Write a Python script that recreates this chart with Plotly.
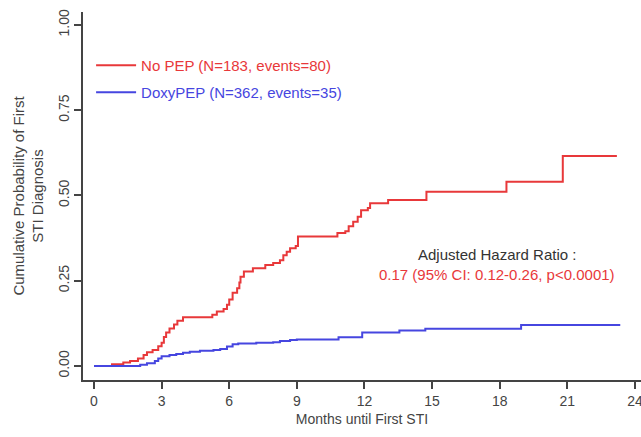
import plotly.graph_objects as go

# ---- data ----
nopep_months = [0, 0.8, 1.3, 1.6, 1.95, 2.2, 2.35, 2.6, 2.85, 3.0, 3.1, 3.2, 3.35, 3.55, 3.7, 3.95,
                5.25, 5.45, 5.75, 5.9, 6.0, 6.15, 6.35, 6.45, 6.5, 6.65, 7.05, 7.6, 7.95, 8.25, 8.4,
                8.55, 8.7, 8.95, 9.05, 10.8, 11.15, 11.3, 11.5, 11.7, 11.85, 12.15, 12.25, 13.05,
                14.75, 18.3, 20.8, 23.2]
nopep_prob = [0, 0.005, 0.01, 0.015, 0.022, 0.032, 0.04, 0.047, 0.058, 0.068, 0.085, 0.098, 0.11,
              0.122, 0.133, 0.143, 0.15, 0.16, 0.167, 0.18, 0.195, 0.215, 0.228, 0.245, 0.262, 0.277,
              0.287, 0.296, 0.302, 0.31, 0.325, 0.335, 0.345, 0.352, 0.38, 0.39, 0.395, 0.41, 0.423,
              0.438, 0.457, 0.463, 0.477, 0.487, 0.511, 0.54, 0.616, 0.616]

doxy_months = [0, 2.05, 2.35, 2.7, 2.85, 3.0, 3.35, 3.65, 3.95, 4.25, 4.7, 5.3, 5.6, 5.9, 6.15, 6.4,
               7.2, 7.95, 8.25, 8.7, 9.0, 10.85, 11.9, 13.55, 14.7, 18.95, 23.35]
doxy_prob = [0, 0.004, 0.008, 0.015, 0.022, 0.029, 0.032, 0.035, 0.039, 0.042, 0.045, 0.047, 0.05,
             0.057, 0.064, 0.066, 0.068, 0.07, 0.073, 0.076, 0.078, 0.084, 0.098, 0.104, 0.109,
             0.12, 0.12]

x_ticks = [0, 3, 6, 9, 12, 15, 18, 21, 24]
y_ticks = [0, 0.25, 0.5, 0.75, 1.0]
y_tick_labels = ["0.00", "0.25", "0.50", "0.75", "1.00"]

label_nopep = "No PEP (N=183, events=80)"
label_doxy = "DoxyPEP (N=362, events=35)"
hr_title = "Adjusted Hazard Ratio :"
hr_text = "0.17 (95% CI: 0.12-0.26, p<0.0001)"

RED = "#e8383a"
BLUE = "#4646e0"
AXIS = "#444444"
FONT = "Liberation Sans, Arial, sans-serif"

fig = go.Figure()
fig.add_trace(go.Scatter(
    x=nopep_months, y=nopep_prob, mode="lines", line=dict(color=RED, width=2, shape="hv"),
    name=f'<span style="color:{RED}">{label_nopep}</span>', legend="legend", showlegend=True))
fig.add_trace(go.Scatter(
    x=doxy_months, y=doxy_prob, mode="lines", line=dict(color=BLUE, width=2, shape="hv"),
    name=f'<span style="color:{BLUE}">{label_doxy}</span>', legend="legend2", showlegend=True))

W, H = 641, 437
L, R, T, B = 83, 0, 12, 57
ph = H - T - B

def py(p):
    return 1 - (p - T) / ph

fig.update_layout(
    width=W, height=H,
    margin=dict(l=L, r=R, t=T, b=B, autoexpand=False),
    paper_bgcolor="white", plot_bgcolor="white",
    showlegend=True,
    font=dict(family=FONT, size=14, color=AXIS),
    legend=dict(x=0.0145, y=py(49), xanchor="left", yanchor="top", visible=True, itemwidth=40,
                bgcolor="rgba(0,0,0,0)", font=dict(size=15)),
    legend2=dict(x=0.0145, y=py(76), xanchor="left", yanchor="top", visible=True, itemwidth=40,
                 bgcolor="rgba(0,0,0,0)", font=dict(size=15)),
    xaxis=dict(
        range=[-0.488, 24.27], tickvals=x_ticks, ticktext=[str(v) for v in x_ticks],
        showgrid=False, zeroline=False, showline=True, linecolor=AXIS, linewidth=1.5,
        ticks="outside", ticklen=7, tickwidth=1.5, tickcolor=AXIS, automargin=False,
        ticklabeloverflow="allow",
        tickfont=dict(size=14, color=AXIS),
        title=dict(text="Months until First STI", font=dict(size=14, color=AXIS), standoff=7),
    ),
    yaxis=dict(
        range=[-0.041, 1.038], tickvals=y_ticks, ticktext=y_tick_labels, tickangle=-90,
        showgrid=False, zeroline=False, showline=True, linecolor=AXIS, linewidth=1.5,
        ticks="outside", ticklen=7, tickwidth=1.5, tickcolor=AXIS, automargin=False,
        tickfont=dict(size=14, color=AXIS),
        title=dict(text="Cumulative Probability of First<br>STI Diagnosis",
                   font=dict(size=15, color=AXIS), standoff=8),
    ),
    annotations=[
        dict(x=17.88, y=0.328, xref="x", yref="y", text=hr_title, showarrow=False,
             font=dict(size=15, color="#333333"), xanchor="center", yanchor="middle"),
        dict(x=17.88, y=0.267, xref="x", yref="y", text=hr_text, showarrow=False,
             font=dict(size=15, color=RED), xanchor="center", yanchor="middle"),
    ],
)

fig.write_html("out.html",
               config={"displayModeBar": False},
               post_script="document.body.style.margin='0';document.body.style.overflow='hidden';")
